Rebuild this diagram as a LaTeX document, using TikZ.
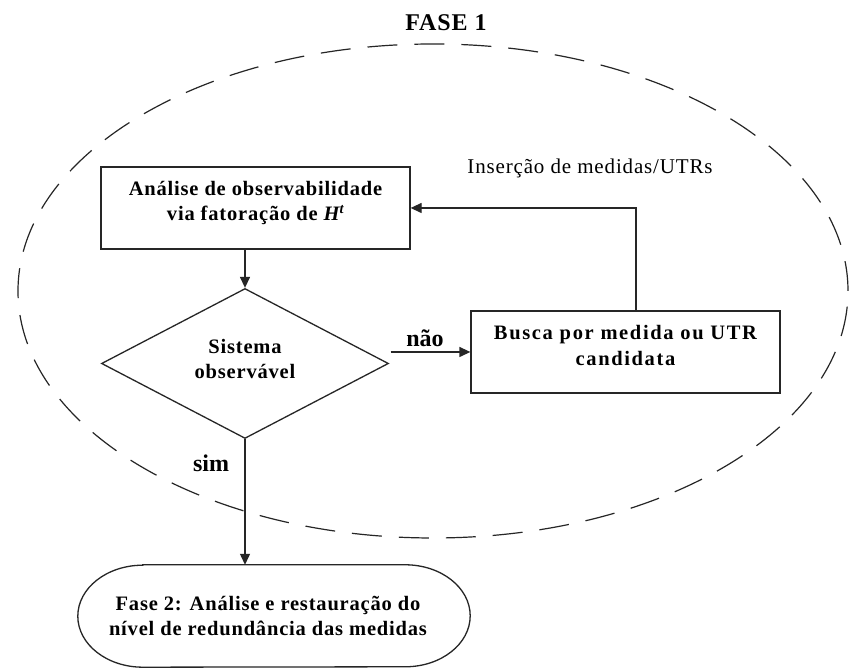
\documentclass[tikz,border=0pt]{standalone}
\usepackage{fontspec}
\setmainfont{Liberation Serif}
\newfontfamily\spaced[LetterSpace=4]{Liberation Serif}
\newfontfamily\wider[LetterSpace=8]{Liberation Serif}
\usetikzlibrary{shapes.geometric,arrows.meta}
% invisible strut that deepens the last line, lifting the text block
\newcommand{\liftby}[1]{\rule[-#1]{0pt}{0pt}}
\begin{document}
\begin{tikzpicture}[x=1pt,y=1pt,
  line/.style={draw=black!85, line width=1.3pt},
  arr/.style={line, -{Triangle[length=11pt,width=10pt]}},
  boldtext/.style={font=\spaced\bfseries\fontsize{20.5}{25}\selectfont, align=center},
  procbox/.style={line, boldtext, rectangle, minimum width=309pt, minimum height=82pt, inner sep=0pt},
  decision/.style={line, boldtext, diamond, minimum width=287pt, minimum height=143pt, inner sep=0pt},
  branch/.style={font=\bfseries\fontsize{24}{28}\selectfont},
  region/.style={draw=black!85, line width=1.2pt, dash pattern=on 30pt off 17pt, ellipse,
                 minimum width=830pt, minimum height=494pt, inner sep=0pt}]

  % canvas
  \fill[white] (0,0) rectangle (855,668);
  \useasboundingbox (0,0) rectangle (855,668);

  % phase 1 region
  \node[region] (phase1) at (433,377) {};
  \node[font=\spaced\bfseries\fontsize{24}{28}\selectfont] (phase1title) at (446,645) {FASE 1};
  \node[font=\spaced\fontsize{21}{25}\selectfont] (insertion) at (590,500) {Inserção de medidas/UTRs};

  % flow steps
  \node[procbox] (analysis) at (255.5,460)
    {Análise de observabilidade\\via fatoração de {\itshape H}\textsuperscript{\itshape t}\liftby{14pt}};
  \node[decision] (check) at (245,304.5) {Sistema\\observável\liftby{10pt}};
  \node[procbox, font=\wider\bfseries\fontsize{20.5}{26}\selectfont] (search) at (625.5,316)
    {Busca por medida ou UTR\\candidata\liftby{14pt}};

  % phase 2 terminator
  \node[boldtext, minimum width=392pt, minimum height=102pt, inner sep=0pt] (phase2) at (274,52)
    {\hspace*{-12pt}Fase 2: Análise e restauração do\\\hspace*{-12pt}nível de redundância das medidas};
  \draw[line] ([xshift=65pt]phase2.north west) -- ([xshift=-65pt]phase2.north east)
    arc[start angle=90, end angle=-90, x radius=65pt, y radius=51pt]
    -- ([xshift=65pt]phase2.south west)
    arc[start angle=270, end angle=90, x radius=65pt, y radius=51pt] -- cycle;

  % connectors
  \draw[arr] (analysis.south -| check.north) -- (check.north);
  \draw[arr] ([xshift=1.5pt]check.east |- search.west) -- (search.west);
  \draw[arr] ([xshift=10.5pt]search.north) |- (analysis.east);
  \draw[arr] (check.south) -- (check.south |- phase2.north);

  % branch labels
  \node[branch] (no) at (425,330) {não};
  \node[branch] (yes) at (211,205) {sim};
\end{tikzpicture}
\end{document}
